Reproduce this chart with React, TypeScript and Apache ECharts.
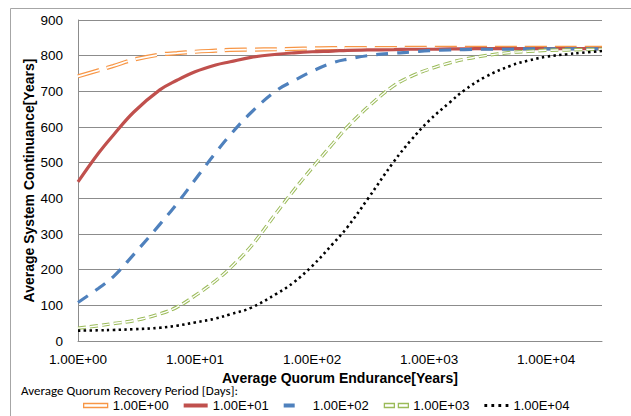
import React, { useEffect, useRef } from 'react';
import * as echarts from 'echarts';

// Average Quorum Endurance [Years] (x, log scale)
const xValues = [1, 1.5, 2, 3, 5, 7, 10, 15, 20, 30, 50, 70, 100, 150, 200, 300, 500, 700, 1000, 1500, 2000, 3000, 5000, 7000, 10000, 15000, 20000, 30000];

// Legend names: Average Quorum Recovery Period [Days]
const seriesNames = ['1.00E+00', '1.00E+01', '1.00E+02', '1.00E+03', '1.00E+04'];

// Average System Continuance [Years]
const period1e0 = [742, 759, 771, 789, 803, 807, 811, 814, 816, 817, 818, 819, 820, 821, 821, 821, 821, 822, 822, 822, 822, 822, 822, 822, 822, 822, 822, 822];
const period1e1 = [446, 527, 577, 642, 704, 731, 755, 774, 783, 795, 804, 808, 811, 813, 815, 816, 817, 818, 818, 819, 819, 820, 820, 820, 820, 820, 820, 820];
const period1e2 = [108, 148, 180, 243, 327, 385, 452, 528, 578, 640, 703, 730, 756, 780, 790, 800, 807, 810, 814, 816, 817, 818, 818, 819, 819, 819, 819, 819];
const period1e3 = [36, 43, 49, 57, 76, 95, 127, 169, 205, 265, 361, 423, 485, 553, 600, 656, 716, 742, 762, 780, 790, 800, 809, 812, 815, 816, 817, 818];
const period1e4 = [29, 30, 31, 33, 37, 43, 52, 63, 75, 93, 133, 165, 210, 272, 319, 399, 503, 563, 618, 669, 703, 740, 772, 786, 797, 804, 808, 813];

const xAxisTitle = 'Average Quorum Endurance[Years]';
const yAxisTitle = 'Average System Continuance[Years]';
const legendTitle = 'Average Quorum Recovery Period [Days]:';

const ORANGE = '#F79646';
const RED = '#C0504D';
const BLUE = '#4F81BD';
const GREEN = '#9BBB59';
const BLACK = '#000000';
const GRID = '#8c8c8c';
const FONT = "'Liberation Sans', Arial, sans-serif";

const pairs = (ys: number[]) => xValues.map((x, i) => [x, ys[i]]);

const expLabel = (v: number) => {
  const e = Math.log10(v);
  const r = Math.round(e);
  if (Math.abs(e - r) > 1e-6) return '';
  return '1.00E+' + String(r).padStart(2, '0');
};

export default function App() {
  const ref = useRef<HTMLDivElement>(null);

  useEffect(() => {
    if (!ref.current) return;
    const chart = echarts.init(ref.current, undefined, { renderer: 'svg' });
    const lineBase = { type: 'line', symbol: 'none', smooth: 0.4, silent: true };
    chart.setOption({
      animation: false,
      backgroundColor: '#ffffff',
      textStyle: { fontFamily: FONT, color: '#000' },
      title: {
        text: legendTitle,
        left: 21,
        top: 384,
        padding: 0,
        textStyle: { fontSize: 13, fontWeight: 'normal', fontFamily: "Carlito, Lato, sans-serif", color: '#000' },
      },
      graphic: [
        {
          type: 'rect',
          silent: true,
          shape: { x: 10.5, y: 8.5, width: 700, height: 500 },
          style: { fill: 'none', stroke: '#a6a6a6', lineWidth: 1 },
        },
      ],
      grid: { left: 78, top: 20, right: 29, bottom: 75, containLabel: false, outerBoundsMode: 'none' },
      legend: {
        left: 83,
        top: 399,
        padding: 0,
        itemWidth: 24,
        itemHeight: 4,
        itemGap: 15,
        textStyle: { fontSize: 13, color: '#000', fontFamily: FONT },
        data: [
          { name: seriesNames[0], icon: 'rect', itemStyle: { color: '#fff', borderColor: ORANGE, borderWidth: 1.3 } },
          { name: seriesNames[1], icon: 'rect', itemStyle: { color: RED, borderWidth: 0 } },
          { name: seriesNames[2], icon: 'path://M0 0H11V4H0ZM23.98 3.98H24V4H23.98Z', itemStyle: { color: BLUE, borderWidth: 0 } },
          { name: seriesNames[3], icon: 'path://M0 0H10V4H0ZM14 0H24V4H14Z', itemStyle: { color: '#fff', borderColor: GREEN, borderWidth: 1.3 } },
          { name: seriesNames[4], icon: 'path://M0 0.6H2.8V3.4H0ZM7 0.6H9.8V3.4H7ZM14 0.6H16.8V3.4H14ZM21.2 0.6H24V3.4H21.2ZM0 0H0.01V0.01H0ZM23.99 3.99H24V4H23.99Z', itemStyle: { color: BLACK, borderWidth: 0 } },
        ],
      },
      xAxis: {
        type: 'log',
        logBase: 10,
        min: 1,
        max: 30000,
        name: xAxisTitle,
        nameLocation: 'middle',
        nameGap: 30,
        nameTextStyle: { fontSize: 14, fontWeight: 'bold', color: '#000', fontFamily: FONT },
        axisLine: { show: true, lineStyle: { color: GRID, width: 1 } },
        axisTick: { show: false },
        minorTick: { show: false },
        splitLine: { show: false },
        axisLabel: { formatter: expLabel, fontSize: 13.5, color: '#000', margin: 11, showMaxLabel: false },
      },
      yAxis: {
        type: 'value',
        min: 0,
        max: 900,
        interval: 100,
        name: yAxisTitle,
        nameLocation: 'middle',
        nameGap: 42,
        nameMoveOverlap: false,
        nameTextStyle: { fontSize: 14, fontWeight: 'bold', color: '#000', fontFamily: FONT },
        axisLine: { show: true, lineStyle: { color: GRID, width: 1 } },
        axisTick: { show: false },
        splitLine: { show: true, lineStyle: { color: GRID, width: 1 } },
        axisLabel: { fontSize: 13.5, color: '#000', margin: 15 },
      },
      series: [
        { ...lineBase, name: seriesNames[0], data: pairs(period1e0), color: ORANGE,
          lineStyle: { color: ORANGE, width: 4.2, type: [22, 8] } },
        { ...lineBase, name: '_inner0', data: pairs(period1e0), color: '#fff',
          lineStyle: { color: '#ffffff', width: 1.8, type: [22, 8] } },
        { ...lineBase, name: seriesNames[1], data: pairs(period1e1), color: RED,
          lineStyle: { color: RED, width: 3.2, type: 'solid' } },
        { ...lineBase, name: seriesNames[2], data: pairs(period1e2), color: BLUE,
          lineStyle: { color: BLUE, width: 3.2, type: [12, 9] } },
        { ...lineBase, name: seriesNames[3], data: pairs(period1e3), color: GREEN,
          lineStyle: { color: GREEN, width: 3.4, type: [8, 4] } },
        { ...lineBase, name: '_inner3', data: pairs(period1e3), color: '#fff',
          lineStyle: { color: '#ffffff', width: 1.4, type: [8, 4] } },
        { ...lineBase, name: seriesNames[4], data: pairs(period1e4), color: BLACK,
          lineStyle: { color: BLACK, width: 2.6, type: [2.4, 3.4] } },
      ],
    });
    return () => chart.dispose();
  }, []);

  return (
    <div
      ref={ref}
      style={{ position: 'absolute', left: 0, top: 0, width: 631, height: 416, background: '#fff' }}
    />
  );
}
